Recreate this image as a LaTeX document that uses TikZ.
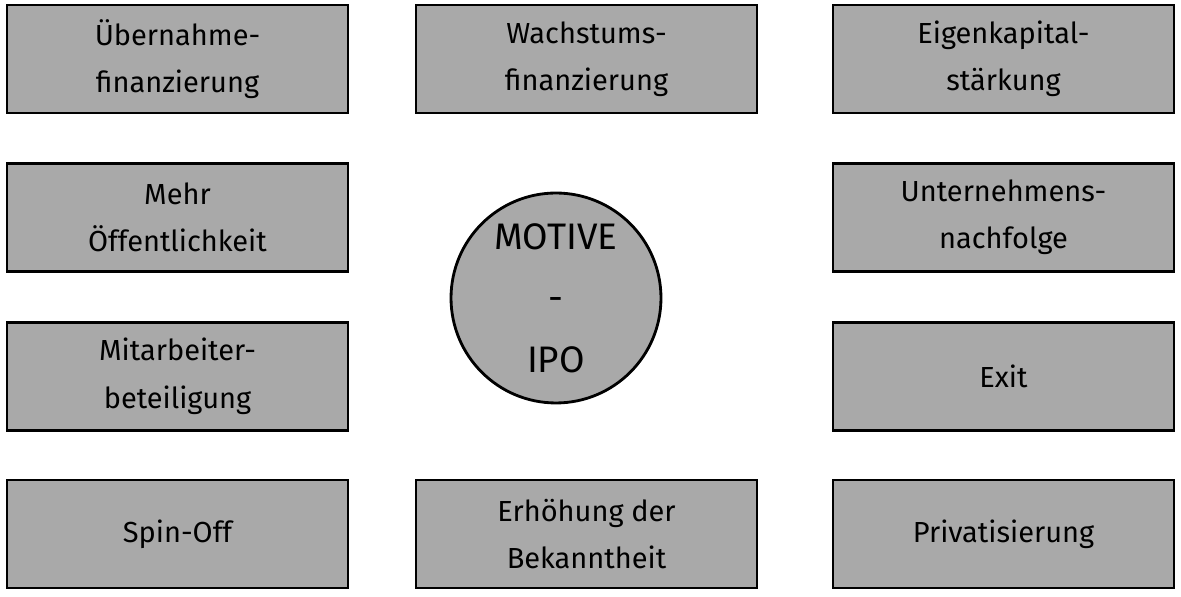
\documentclass[tikz,border=0pt]{standalone}
\usepackage{fontspec}
\setmainfont{Fira Sans}
\usetikzlibrary{positioning}
\definecolor{boxgray}{HTML}{A9A9A9}

\begin{document}
\begin{tikzpicture}[x=0.02cm,y=-0.02cm]

        % Styles for the motive boxes and the centre circle
        \tikzset{
            motivebox/.style={draw, line width=1.6pt, fill=boxgray,
                minimum width=6.82cm, minimum height=2.16cm,
                align=center, font=\fontsize{16.5}{27}\selectfont},
            centrecircle/.style={draw, circle, line width=1.6pt, fill=boxgray,
                minimum size=4.2cm, align=center,
                font=\fontsize{21}{35}\selectfont}
        }

        \useasboundingbox (0,0) rectangle (1181,597);

        % Left column
        \node[motivebox] (UF) at (177.5,59) {Übernahme-\\finanzierung};
        \node[motivebox] (MO) at (177.5,217.5) {Mehr\\Öffentlichkeit};
        \node[motivebox] (MB) at (177.5,376.5) {Mitarbeiter-\\beteiligung};
        \node[motivebox] (SO) at (177.5,534) {Spin-Off};

        % Middle column
        \node[motivebox] (WF) at (586.5,59) {Wachstums-\\finanzierung};
        \node[motivebox] (EB) at (586.5,534) {Erhöhung der\\Bekanntheit};
        \node[centrecircle] (MI) at (556,298) {MOTIVE\\-\\IPO};

        % Right column
        \node[motivebox] (ES) at (1003.5,59) {Eigenkapital-\\stärkung};
        \node[motivebox] (UN) at (1003.5,217.5) {Unternehmens-\\nachfolge};
        \node[motivebox] (EX) at (1003.5,376.5) {Exit};
        \node[motivebox] (PR) at (1003.5,534) {Privatisierung};

\end{tikzpicture}
\end{document}
